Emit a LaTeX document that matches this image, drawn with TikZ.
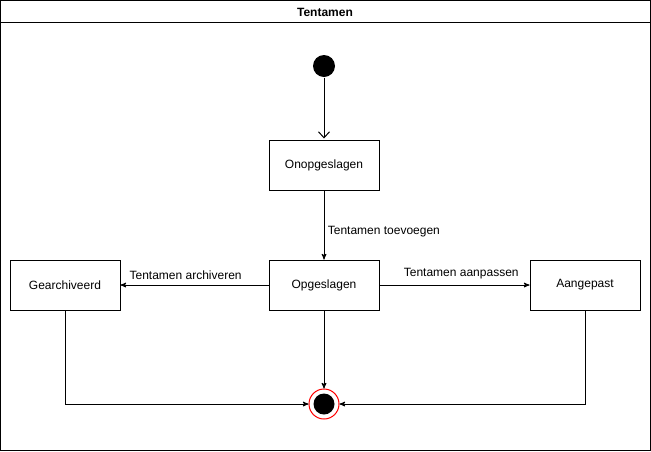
\documentclass[tikz,border=0pt]{standalone}
\usepackage{fontspec}
\setmainfont{Liberation Sans}
\usepackage{tikz}
\usetikzlibrary{arrows,arrows.meta}

\begin{document}
\begin{tikzpicture}[->,>=stealth',line width=1pt,node distance=120pt,
  toestand/.style={draw,rectangle,minimum width=110pt,minimum height=50pt,inner sep=0pt,font=\fontsize{12}{14}\selectfont},
  begin/.style={circle,fill=black,minimum size=22pt,inner sep=0pt},
  eind/.style={circle,draw=red,fill=white,line width=1pt,minimum size=30pt,inner sep=0pt,path picture={\fill[black] (path picture bounding box.center) circle (10.5pt);}},
  lbl/.style={font=\fontsize{12}{14}\selectfont}]
\useasboundingbox (0,0) rectangle (651pt,-451pt);
\draw[-] (0.5pt,-0.5pt) rectangle (650.5pt,-450.5pt);
\draw[-] (0.5pt,-22.5pt) -- (650.5pt,-22.5pt);
\node[font=\fontsize{12}{14}\selectfont\bfseries] (titel) at (325pt,-12pt) {Tentamen};
\node[toestand] (opg) at (324pt,-285pt) {Opgeslagen};
\node[toestand] [above of=opg](onop) {Onopgeslagen};
\node[begin] [above of=onop,node distance=99pt](start) {};
\node[toestand] [left of=opg,node distance=259pt](gea) {Gearchiveerd};
\node[toestand] [right of=opg,node distance=261pt](aan) {Aangepast};
\node[eind] [below of=opg,node distance=119pt](stop) {};
\draw[-{Straight Barb[length=6pt,width=11pt]},shorten >=1pt] (start) -- (onop);
\draw (onop) -- node[lbl,right,pos=0.59]{Tentamen toevoegen} (opg);
\draw (opg) -- node[lbl,above,pos=0.56,yshift=2pt]{Tentamen archiveren} (gea);
\draw (opg) -- node[lbl,above,pos=0.545,yshift=2pt]{Tentamen aanpassen} (aan);
\draw (opg) -- (stop);
\draw (gea.south) |- (stop.west);
\draw (aan.south) |- (stop.east);
\end{tikzpicture}
\end{document}
